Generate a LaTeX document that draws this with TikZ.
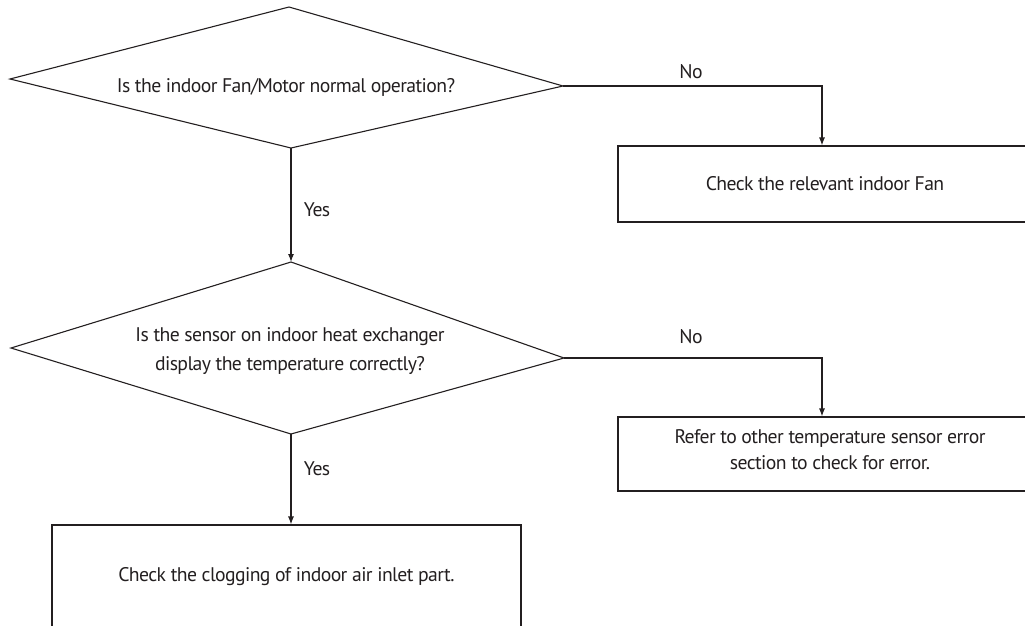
\documentclass[tikz,border=0pt]{standalone}
\usepackage{fontspec}
\setmainfont[LetterSpace=-3.0]{PT Sans}
\usetikzlibrary{arrows.meta,calc}
\definecolor{ink}{RGB}{35,31,32}
\begin{document}
\begin{tikzpicture}[x=1pt,y=-1pt,
  line width=1.1pt, draw=ink,
  every node/.style={text=ink,font=\fontsize{19.7}{24}\selectfont},
  boxnode/.style={draw=ink,line width=1.1pt,rectangle,inner sep=0pt,align=center},
  txt/.style={align=center,inner sep=0pt},
  arr/.style={-{Latex[length=8pt,width=6pt]},draw=ink,line width=1.1pt}]
\useasboundingbox (0,0) rectangle (1025,625);
\clip (0,0) rectangle (1025,625);
% diamond 1
\coordinate (d1l) at (10,79);
\coordinate (d1t) at (289,7);
\coordinate (d1r) at (563,86);
\coordinate (d1b) at (291,148);
\draw (d1l) -- (d1t) -- (d1r) -- (d1b) -- cycle;
\node[txt] (q1) at (286,87) {Is the indoor Fan/Motor normal operation?};
% diamond 2
\coordinate (d2l) at (11,348);
\coordinate (d2t) at (291,262);
\coordinate (d2r) at (564,358);
\coordinate (d2b) at (291,434);
\draw (d2l) -- (d2t) -- (d2r) -- (d2b) -- cycle;
\node[txt] (q2) at (290,351) {Is the sensor on indoor heat exchanger\\[5pt]display the temperature correctly?};
% boxes
\node[boxnode,minimum width=414pt,minimum height=76pt] (b1) at (825,184) {Check the relevant indoor Fan};
\node[boxnode,minimum width=424pt,minimum height=74pt] (b2) at (830,454) {};
\node[txt] (t2) at (830,450) {Refer to other temperature sensor error\\[2pt]section to check for error.};
\node[boxnode,minimum width=469pt,minimum height=104pt] (b3) at (286.5,577) {Check the clogging of indoor air inlet part.};
% connectors
\draw[arr] (d1r) -| ([xshift=-3pt]b1.north);
\draw[arr] (d1b) -- (d2t);
\draw[arr] (d2r) -| ([xshift=-8pt]b2.north);
\draw[arr] (d2b) -- ([xshift=4.5pt]b3.north);
% labels
\node (no1) at (691,72) {No};
\node (no2) at (691,337) {No};
\node (yes1) at (317,210) {Yes};
\node (yes2) at (317,469) {Yes};
\end{tikzpicture}
\end{document}
